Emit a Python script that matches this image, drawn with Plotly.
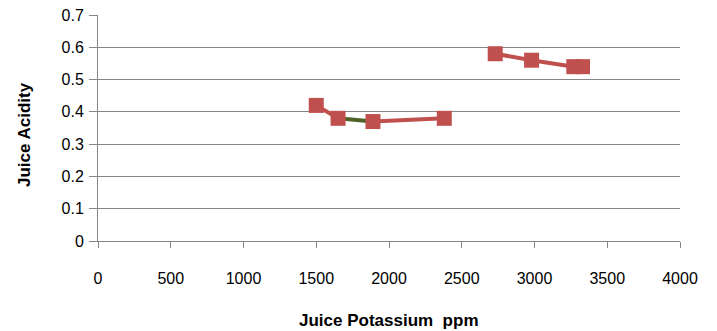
import plotly.graph_objects as go

# Red series (gaps where the line breaks)
red_x = [1500, 1650, None, 1890, 2380, None, 2730, 2980, 3270, 3330]
red_y = [0.42, 0.38, None, 0.37, 0.38, None, 0.58, 0.56, 0.54, 0.54]
# Green series segment
green_x = [1650, 1890]
green_y = [0.38, 0.37]

x_ticks = [0, 500, 1000, 1500, 2000, 2500, 3000, 3500, 4000]
y_ticks = [0, 0.1, 0.2, 0.3, 0.4, 0.5, 0.6, 0.7]

RED = "#C0504D"
GREEN = "#4F6228"
GRID = "#868686"
FONT = "Liberation Sans"

fig = go.Figure()
fig.add_trace(go.Scatter(x=green_x, y=green_y, mode="lines",
                         line=dict(color=GREEN, width=4), showlegend=False))
fig.add_trace(go.Scatter(x=red_x, y=red_y, mode="lines+markers",
                         line=dict(color=RED, width=4),
                         marker=dict(symbol="square", size=15, color=RED),
                         connectgaps=False, showlegend=False))

fig.update_layout(
    width=717, height=331,
    margin=dict(l=98, r=37, t=15, b=90),
    paper_bgcolor="white", plot_bgcolor="white",
    font=dict(family=FONT, size=16, color="#000000"),
    annotations=[
        dict(text="<b>Juice Potassium  ppm</b>", xref="paper", yref="paper",
             x=0.5, y=-0.35, xanchor="center", yanchor="middle",
             showarrow=False, font=dict(size=17)),
        dict(text="<b>Juice Acidity</b>", xref="paper", yref="paper",
             x=-0.125, y=0.47, xanchor="center", yanchor="middle",
             textangle=-90, showarrow=False, font=dict(size=17)),
    ],
)
fig.update_xaxes(
    range=[0, 4000], tickvals=x_ticks, ticktext=[str(v) for v in x_ticks],
    showgrid=False, zeroline=False, automargin=False,
    showline=True, linecolor=GRID, linewidth=1,
    ticks="outside", ticklen=6, tickcolor=GRID,
    ticklabelstandoff=17,
)
fig.update_yaxes(
    range=[0, 0.7], tickvals=y_ticks, ticktext=["0", "0.1", "0.2", "0.3", "0.4", "0.5", "0.6", "0.7"],
    showgrid=True, gridcolor=GRID, gridwidth=1, zeroline=False, automargin=False,
    showline=True, linecolor=GRID, linewidth=1,
    ticks="outside", ticklen=8, tickcolor=GRID,
    ticklabelstandoff=2,
)

fig.write_html("out.html")
